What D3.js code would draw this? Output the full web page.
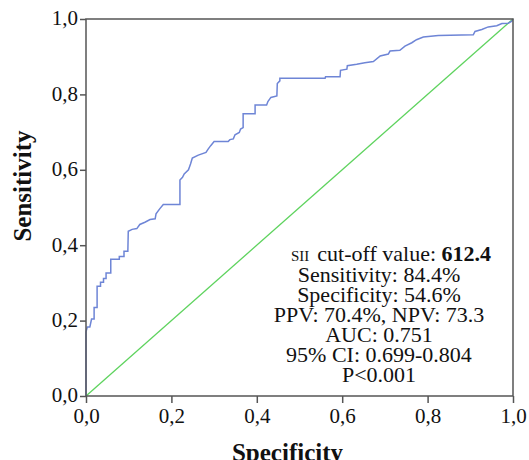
<!DOCTYPE html>
<html>
<head>
<meta charset="utf-8">
<script src="https://cdn.jsdelivr.net/npm/d3@7"></script>
<style>
  body { margin: 0; background: #fff; }
  svg text { font-family: "Liberation Serif", "Times New Roman", serif; fill: #111; }
</style>
</head>
<body>
<svg id="roc" width="529" height="460"></svg>
<script>
// ROC curve points (x = 1 - specificity, y = sensitivity)
var fpr = [0, 0, 0.003, 0.009, 0.013, 0.019, 0.019, 0.026, 0.026, 0.034, 0.034, 0.041, 0.041, 0.047,
  0.047, 0.058, 0.058, 0.078, 0.078, 0.089, 0.089, 0.098, 0.099, 0.108, 0.119, 0.126, 0.138, 0.150,
  0.162, 0.164, 0.173, 0.181, 0.220, 0.220, 0.226, 0.230, 0.240, 0.245, 0.249, 0.263, 0.281, 0.286,
  0.292, 0.300, 0.333, 0.337, 0.345, 0.349, 0.359, 0.362, 0.368, 0.368, 0.396, 0.396, 0.423, 0.426,
  0.433, 0.447, 0.448, 0.454, 0.454, 0.560, 0.561, 0.595, 0.596, 0.611, 0.612, 0.634, 0.653, 0.673,
  0.689, 0.708, 0.712, 0.735, 0.747, 0.763, 0.774, 0.790, 0.825, 0.907, 0.911, 0.927, 0.942, 0.962,
  0.974, 0.989, 0.997, 1];
var tpr = [0, 0.170, 0.183, 0.183, 0.204, 0.204, 0.235, 0.235, 0.291, 0.291, 0.302, 0.302, 0.312, 0.312,
  0.326, 0.326, 0.363, 0.363, 0.370, 0.370, 0.384, 0.384, 0.437, 0.442, 0.444, 0.455, 0.461, 0.468,
  0.470, 0.483, 0.497, 0.508, 0.508, 0.573, 0.580, 0.589, 0.600, 0.616, 0.631, 0.639, 0.646, 0.655,
  0.664, 0.675, 0.675, 0.680, 0.682, 0.693, 0.699, 0.708, 0.712, 0.749, 0.749, 0.772, 0.772, 0.781,
  0.792, 0.796, 0.829, 0.836, 0.843, 0.843, 0.847, 0.847, 0.864, 0.867, 0.876, 0.880, 0.884, 0.887,
  0.902, 0.907, 0.915, 0.917, 0.928, 0.937, 0.945, 0.952, 0.956, 0.958, 0.967, 0.972, 0.979, 0.982,
  0.988, 0.989, 0.994, 1];
var refLine = [0, 1];
var tickValues = [0, 0.2, 0.4, 0.6, 0.8, 1.0];
var statLines = ["Sensitivity: 84.4%", "Specificity: 54.6%", "PPV: 70.4%, NPV: 73.3",
  "AUC: 0.751", "95% CI: 0.699-0.804", "P<0.001"];

var svg = d3.select("#roc"),
    margin = { top: 19, right: 16, bottom: 64, left: 86 },
    width = +svg.attr("width") - margin.left - margin.right,
    height = +svg.attr("height") - margin.top - margin.bottom,
    g = svg.append("g").attr("transform", "translate(" + margin.left + "," + margin.top + ")");

var x = d3.scaleLinear().domain([0, 1]).range([0, width]);
var y = d3.scaleLinear().domain([0, 1]).range([height, 0]);
var fmt = function (d) { return d3.format(".1f")(d).replace(".", ","); };

// reference diagonal
g.append("path")
    .datum(refLine)
    .attr("fill", "none")
    .attr("stroke", "#5ed35e")
    .attr("stroke-width", 1.3)
    .attr("d", d3.line().x(function (d) { return x(d); }).y(function (d) { return y(d); }));

// ROC curve
var pts = fpr.map(function (d, i) { return [d, tpr[i]]; });
g.append("path")
    .datum(pts)
    .attr("fill", "none")
    .attr("stroke", "#6e85d6")
    .attr("stroke-width", 1.5)
    .attr("d", d3.line().x(function (d) { return x(d[0]); }).y(function (d) { return y(d[1]); }));

// frame
g.append("rect")
    .attr("width", width).attr("height", height)
    .attr("fill", "none").attr("stroke", "#555").attr("stroke-width", 1.5);

// axes
var xAxis = g.append("g")
    .attr("transform", "translate(0," + height + ")")
    .call(d3.axisBottom(x).tickValues(tickValues).tickFormat(fmt).tickSize(7).tickPadding(5));
var yAxis = g.append("g")
    .call(d3.axisLeft(y).tickValues(tickValues).tickFormat(fmt).tickSize(6).tickPadding(2));
[xAxis, yAxis].forEach(function (a) {
    a.select(".domain").remove();
    a.selectAll("line").attr("stroke", "#555").attr("stroke-width", 1.5);
    a.selectAll("text").attr("font-size", 21).attr("fill", "#111")
        .style("font-family", "'Liberation Serif', serif");
});
yAxis.selectAll("text").attr("dy", "0.28em");

// axis titles
svg.append("text")
    .attr("x", margin.left + width / 2 - 12).attr("y", 461)
    .attr("text-anchor", "middle").attr("font-size", 25).attr("font-weight", "bold")
    .text("Specificity");
svg.append("text")
    .attr("transform", "translate(31,186) rotate(-90)")
    .attr("text-anchor", "middle").attr("font-size", 25).attr("font-weight", "bold")
    .text("Sensitivity");

// statistics block
var first = svg.append("text").attr("x", 291).attr("y", 261).attr("font-size", 22);
first.append("tspan").attr("font-size", 15).text("SII");
first.append("tspan").attr("dx", 8).text("cut-off value: ");
first.append("tspan").attr("font-weight", "bold").text("612.4");

svg.selectAll("text.stat")
    .data(statLines)
    .enter().append("text")
    .attr("class", "stat")
    .attr("x", 379)
    .attr("y", function (d, i) { return 281.5 + i * 20; })
    .attr("text-anchor", "middle")
    .attr("font-size", 22)
    .text(function (d) { return d; });
</script>
</body>
</html>
